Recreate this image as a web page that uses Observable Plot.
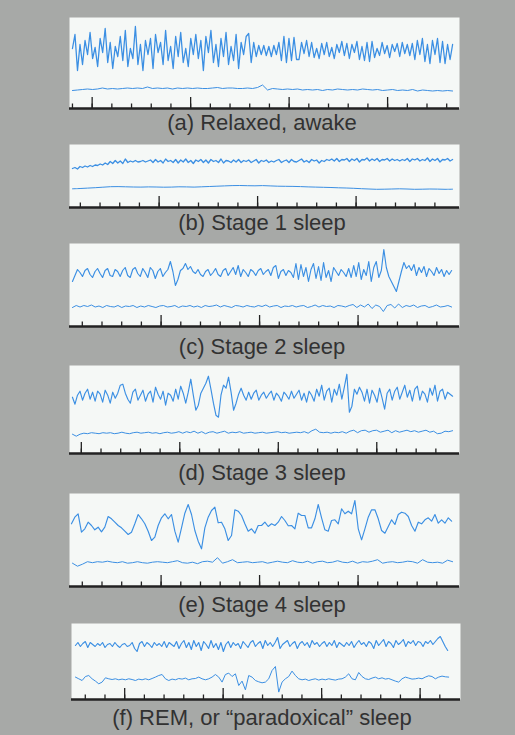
<!DOCTYPE html>
<html><head><meta charset="utf-8">
<script src="https://cdn.jsdelivr.net/npm/d3@7"></script>
<script src="https://cdn.jsdelivr.net/npm/@observablehq/plot@0.6"></script>
<style>
html,body{margin:0;padding:0;background:#a7a9a7;}
#page{position:relative;width:515px;height:735px;overflow:hidden;background:#a7a9a7;font-family:"Liberation Sans",Arial,Helvetica,sans-serif;}
.panel{position:absolute;left:0;}
.panel svg{display:block;}
.cap{position:absolute;left:0;width:524px;text-align:center;font-size:22px;line-height:22px;color:#323232;white-space:nowrap;}
</style></head><body><div id="page"></div>
<script>
// Captions
const captions = ["(a) Relaxed, awake", "(b) Stage 1 sleep", "(c) Stage 2 sleep", "(d) Stage 3 sleep", "(e) Stage 4 sleep", "(f) REM, or \u201cparadoxical\u201d sleep"];

// Tick positions (seconds)
const majorTicksA = [0.23, 1.23, 2.23, 3.23];
const majorTicksB = [0.91, 1.91, 2.91];
const majorTicksC = [0.93, 1.93, 2.93];
const majorTicksD = [0.12, 1.12, 2.12, 3.12];
const majorTicksE = [0.93, 1.93, 2.93];
const majorTicksF = [0.54, 1.54, 2.54, 3.54];
const minorTickStart = [0.03, 0.11, 0.13, 0.12, 0.13, 0.14];
const minorTickStep = 0.2;

// EEG traces (amplitude, up = positive), evenly sampled
const aTop = [2,16,-20,6,-14,10,-4,18,-8,3,
 -16,12,-2,22,-12,8,-18,4,-6,14,
 -10,20,-16,2,-8,24,-14,6,-20,10,
 -4,12,-18,16,-2,8,-14,20,-10,4,
 -18,14,-6,18,-12,2,-16,12,-4,16,
 -8,10,-20,14,-2,20,-12,6,-16,12,
 -6,18,-14,4,-10,16,-18,8,-4,14,
 17,-12,8,-6,5,-4,5,-5,4,-6,
 5,-4,8,-10,14,-12,12,-10,13,-9,
 -9,8,-3,10,-6,8,-7,2,-8,7,
 -4,8,-6,3,-8,6,-2,9,-5,7,
 -8,6,-2,9,-9,4,-10,8,-11,9,
 -7,2,-5,8,-3,5,-7,6,-1,7,
 -6,8,-3,6,-5,7,-9,10,-4,12,
 -11,6,-13,10,-4,12,-12,9,-13,6,
 -9,6];
const aBottom = [-1,-0.5,0,0.5,0,0.5,1.5,0.5,1,0.5,
 1,1.5,1,1.5,1,2.5,1,1.5,1,1.5,
 0.5,1.5,1,1.5,1,1.5,1,1,1.5,2,
 1,1.5,1.5,1,1,1.5,1,2,4.5,-0.5,
 1,0.5,0,0.5,0,0.5,-0.5,0,-0.5,0,
 -1,0,-0.5,0.5,0,-0.5,0,-0.5,0.5,0,
 -0.5,0,-1,-0.5,0,-1,-0.5,-1,0,-1.5,
 -0.5,-1,-1.5,-1,-1.5,-1,-1.5];

const bTop = [-7,-6,-7.5,-5,-6,-4.5,-5.5,-4,-5,-3.5,
 -4,-2.5,-3.5,-1.5,-3,0,-2,1,-1.5,0.5,
 -2,2.5,-1,0.5,-0.5,1,-0.5,0,1,-0.5,
 0.5,1.5,-1,2,-0.5,1,-1.5,2.5,0,1,
 -1,2,-1.5,1.5,-0.5,2.5,-1,1,-2,1.5,
 0,2,-1,1.5,-1.5,2,0,1,-1,2.5,
 -1.5,1,0.5,-1,1.5,-0.5,2,-1,1,0,
 1.5,-1,0.5,2,-1.5,1,0,1.5,-1,0.5,
 -0.5,1,2,-1,0.5,1.5,-1,2,0,-0.5,
 1,2.5,-0.5,1,-1,2,0.5,1.5,-1.5,1,
 0,2,1,2.5,0.5,3,0,2,1.5,3,
 0,2.5,1,3,-0.5,2,1.5,3.5,0.5,2.5,
 1,3,0,2,1.5,3,0.5,2.5,1,2,
 0.5,2,1,3,0,2.5,1.5,3,0.5,2,
 1,3.5,0,2.5,1,3,-0.5,2,1.5,3,
 0.5,2];
const bBottom = [-1.3,-1,-0.6,-0.2,0.3,0.8,0.9,0.7,0.5,0.4,
 0.6,0.5,0.3,0.4,0.7,0.6,0.4,0.7,1,1.3,
 1.6,1.9,2,1.8,1.7,1.9,1.6,1.3,1.2,1.1,
 0.9,0.6,0.4,0.2,0,-0.3,-0.5,-0.8,-1.2,-1.5,
 -1.8,-1.7,-1.5,-1.3,-1.5,-1.8,-1.7,-1.5,-1.6,-1.8,-1.7];

const cTop = [-8,-2,4,1,-3,3,5,-1,-4,2,
 5,0,-4,3,5,-2,-3,4,2,-3,
 3,6,-2,-4,4,6,0,-3,5,1,
 -4,6,3,-5,2,5,-3,1,4,12,
 2,-12,-6,3,5,10,4,7,2,0,
 4,-1,-3,2,4,-2,1,5,-1,-3,
 3,5,-2,2,6,-1,8,-3,4,1,
 -3,4,2,-2,3,5,-1,2,4,-2,
 6,8,-5,2,4,-2,3,1,-4,10,
 -6,9,-3,6,-8,4,10,-5,7,-7,
 11,-4,3,-8,6,2,-2,4,1,-3,
 5,-4,8,-3,11,-6,4,-2,12,-8,
 6,12,-4,3,24,6,-3,-8,-13,-18,
 -8,2,11,5,8,3,9,-2,6,1,
 7,-3,5,2,-2,6,0,4,-3,3,
 -1,3];
const cBottom = [-1,1,-0.5,1,0,1.5,-0.5,0.5,-1,1,
 0,-0.5,1,-1,0.5,0,1,-1,0.5,-0.5,
 1,0,-1,0.5,1,-0.5,0,1,-1,0.5,
 0,1,-0.5,0.5,-1,1,0,0.5,1.5,-0.5,
 1,0,-1,1,0.5,-0.5,1,0,-0.5,1,
 0,1.5,-0.5,0.5,1,-1,0.5,0,1,-0.5,
 0.5,1,-1,0,1.5,-0.5,1,0,0.5,-1,
 1,0.5,-0.5,1,2,-1,1.5,-0.5,2.5,-2,
 1.5,0,-5,1,2,-1.5,2.5,-1,1,0,
 1.5,-1,0.5,1,-1,0,1.5,-0.5,0,1,-0.5];

const dTop = [0,-7,2,6,-3,4,8,-2,5,-4,
 6,3,-5,7,2,-6,5,-1,4,12,
 13,4,-2,-6,5,8,-3,2,7,-4,
 3,6,-5,10,3,-2,6,-8,4,2,
 -4,8,-2,11,4,-6,5,18,2,-13,
 -8,4,9,14,21,8,-6,-18,-20,2,
 12,9,20,5,-13,-6,3,9,2,-3,
 5,-2,4,7,-3,2,5,-1,3,6,
 -3,4,1,-4,5,2,-2,6,-1,3,
 7,-3,4,-5,6,2,-4,8,1,12,
 -3,6,9,-5,8,2,13,-2,10,23,
 -15,-9,8,3,10,5,-4,8,-6,7,
 2,-5,9,-1,-12,4,8,-3,6,10,
 -2,5,12,0,7,-4,8,11,-3,6,
 3,-5,9,2,12,-4,6,8,-2,5,
 3,1];
const dBottom = [-1,-3,-1,0,-0.5,0.5,0,-0.5,0.5,0,
 0.5,-0.5,0,1,0,-0.5,0.5,1,0,0.5,
 1,0,0.5,-0.5,0.5,1,0,0.5,1.5,0,
 1.5,0.5,2,0,1.5,-0.5,1,1.5,0,1,
 2,0,1,0.5,1.5,0,0.5,1,0,0.5,
 1,0,0.5,1,1.5,0.5,1,0,0.5,1,
 0.5,1.5,0,2.5,4,1,0.5,1,0,1,
 0.5,1.5,0,2,3,0.5,2.5,3,1,2.5,
 3,1,2,3,0.5,2.5,1,2,3,1.5,
 2.5,1,2,3,1,2,-0.5,0,2,1.5,2.5];

const eTop = [-1.6,5,8.4,-10,-6.6,0,-3.3,-7.6,-5,-9.6,
 -5,5.7,3.4,0,-3.3,-5.6,-9,-12.3,-10,-1.6,
 7.7,3.4,-1.6,-9,-18.3,-15,-3.3,4.4,8.4,3.4,
 7.7,-9,-20,-5.6,9,17.7,7.7,-8.3,-19,-26.6,
 -5.6,5,11.7,15,-0.6,0,-6.6,-18.3,-13.3,12.4,
 11,6.7,-1.6,-9,-6.6,-11,-3.3,-3.3,
 0,-4.3,-1.6,-3.3,0,5.7,1.7,-3.6,-3.3,-6.6,
 9,6.7,6.7,-5.6,-5.6,3.4,17.7,4.4,-7.6,-9,
 1.7,2.4,-1.6,13.4,8.4,11,8.4,21.7,-6.6,-17.6,
 -6.6,5,12.4,12.4,3.4,-8.3,-11,-4.3,2.4,-2.3,
 7.7,10,9,5.7,-3.3,-9,0,-1.6,2.4,4.4,
 1,7.7,-1,2.4,-1,4.4,1];
const eBottom = [-1,-4,-2,0.5,-0.5,0.5,0,1,0,-0.5,
 0.5,-1,-0.5,0.5,-0.5,-1,0,0.5,0,-0.5,
 0.5,1.5,-0.5,-1,0,-1.5,0.5,1,0,4.5,
 -1,0.5,2.5,-0.5,0,0.5,-0.5,0,0.5,-1,
 0,1,0,-0.5,1.5,0,-0.5,1,-1,0.5,
 1,-0.5,0,1.5,0,-0.5,1,-1,0.5,0,
 1,2.5,-1,0,0.5,-0.5,0,1,0.5,-1,
 2.5,0,-0.5,0,-1,2,0.5];

const fTop = [0,3,-1,2,4,-2,3,1,-1,2,
 0,3,-2,1,2,-1,3,0,-2,1,
 2,-1,0,3,-3,-6,2,4,-1,3,
 1,-2,3,0,2,-1,4,-2,3,1,
 -1,4,-3,2,5,-2,3,-4,5,-1,
 3,-5,4,1,-3,5,-2,2,-4,3,
 -6,1,4,-2,3,0,2,-3,4,1,
 -2,3,5,-1,2,4,-3,5,0,3,
 -1,3,8,-3,1,3,5,-1,2,4,
 -3,2,4,0,3,-2,5,1,3,-1,
 2,4,-1,3,0,5,-2,3,1,-1,
 3,0,4,-2,2,5,1,3,-1,4,
 2,-3,5,0,3,6,-1,4,2,-2,
 5,1,3,6,-1,4,2,5,0,4,
 3,-1,4,2,5,1,4,7,9,4,
 -1,-5];
const fBottom = [1.7,0,-1.7,2.3,3.3,0,-2.3,-5,-3.3,1,
 0,-0.7,0,-1,-0.3,-1,0,-0.7,-1.7,-0.3,
 -1,0,-1,0.3,1.7,3.3,4.3,0,-1.7,-0.3,
 -1,0.3,-0.3,0.7,-1,0,0.3,1.7,0,-1,
 0,1.7,4.3,1.7,-3.3,4.3,5.7,2.3,5,-6.7,
 -2.3,-11,3.3,1.7,-1.7,-3,-4,-3.3,0,8.3,
 12.3,-13.3,-3.3,0,2.3,7.7,3.3,0,-1,-0.3,
 -1.7,-0.7,0,-1.3,-0.3,-1,0,-0.7,-1.3,-0.3,
 0,1.7,5,0,-1,6.3,2.3,0,-0.7,0.7,
 1.7,0,1,-0.3,0.3,-1,-2.3,-3.3,0,1.7,
 0.7,-0.3,0,0.7,0,1.7,3,2.3,0,1.7,
 2.7,2,1.7];

// Colours
const PANEL = "#f5f8f6", TRACE = "#3b8fe3", INK = "#222";

// Layout of the six panels
const panels = [
 {top:17, axis:108, base:131, ml:69, mr:56, span:3.96, major:majorTicksA, minorEnd:3.9,
  upper:{values:aTop, offset:58, t0:0.03, t1:3.89, w:1.3}, lower:{values:aBottom, offset:19, t0:0.03, t1:3.89, curve:"linear"}},
 {top:144, axis:207, base:231, ml:69, mr:56, span:3.96, major:majorTicksB, minorEnd:3.8,
  upper:{values:bTop, offset:46, t0:0.03, t1:3.89, w:1.3}, lower:{values:bBottom, offset:20, t0:0.03, t1:3.89, curve:"catmull-rom"}},
 {top:243, axis:326, base:355, ml:69, mr:56, span:3.96, major:majorTicksC, minorEnd:3.8,
  upper:{values:cTop, offset:53, t0:0.03, t1:3.88, w:1.15}, lower:{values:cBottom, offset:20, t0:0.03, t1:3.88, curve:"linear"}},
 {top:365, axis:453, base:481, ml:69, mr:56, span:3.96, major:majorTicksD, minorEnd:3.8,
  upper:{values:dTop, offset:56.3, t0:0.03, t1:3.89, w:1.15}, lower:{values:dBottom, offset:20.3, t0:0.03, t1:3.89, curve:"linear"}},
 {top:493, axis:586, base:613, ml:69, mr:56, span:3.96, major:majorTicksE, minorEnd:3.8,
  upper:{values:eTop, offset:64.3, t0:0.02, t1:3.88, w:1.15}, lower:{values:eBottom, offset:24.3, t0:0.03, t1:3.89, curve:"linear"}},
 {top:623, axis:699, base:726, ml:71, mr:55, span:3.95, major:majorTicksF, minorEnd:3.8,
  upper:{values:fTop, offset:54, t0:0.04, t1:3.82, w:1.15}, lower:{values:fBottom, offset:20.7, t0:0.04, t1:3.83, curve:"linear"}}
];

const page = document.getElementById("page");

function series(tr) {
  const n = tr.values.length;
  return tr.values.map((v, i) => ({t: tr.t0 + i * (tr.t1 - tr.t0) / (n - 1), y: tr.offset + v}));
}

panels.forEach((p, k) => {
  const H = p.axis - p.top + 2;
  const minor = d3.range(minorTickStart[k], p.minorEnd, minorTickStep);
  const svg = Plot.plot({
    width: 515, height: H,
    marginLeft: p.ml, marginRight: p.mr, marginTop: 0, marginBottom: 2,
    x: {domain: [0, p.span], axis: null},
    y: {domain: [0, H - 2], axis: null},
    style: {background: "transparent", overflow: "visible"},
    marks: [
      Plot.frame({fill: PANEL, stroke: "none"}),
      Plot.line(series(p.upper), {x: "t", y: "y", stroke: TRACE, strokeWidth: p.upper.w, strokeLinejoin: "round"}),
      Plot.line(series(p.lower), {x: "t", y: "y", stroke: TRACE, strokeWidth: 1, curve: p.lower.curve, strokeLinejoin: "round"}),
      Plot.ruleX(minor, {x: d => d, y1: 0, y2: 4.5, stroke: INK, strokeWidth: 1.3}),
      Plot.ruleX(p.major, {x: d => d, y1: 0, y2: 11, stroke: INK, strokeWidth: 1.3}),
      Plot.ruleY([0], {stroke: INK, strokeWidth: 2.5})
    ]
  });
  const wrap = document.createElement("div");
  wrap.className = "panel";
  wrap.style.top = p.top + "px";
  wrap.appendChild(svg);
  page.appendChild(wrap);

  const cap = document.createElement("div");
  cap.className = "cap";
  cap.style.top = (p.base - 18.6) + "px";
  cap.textContent = captions[k];
  page.appendChild(cap);
});
</script>
</body></html>
